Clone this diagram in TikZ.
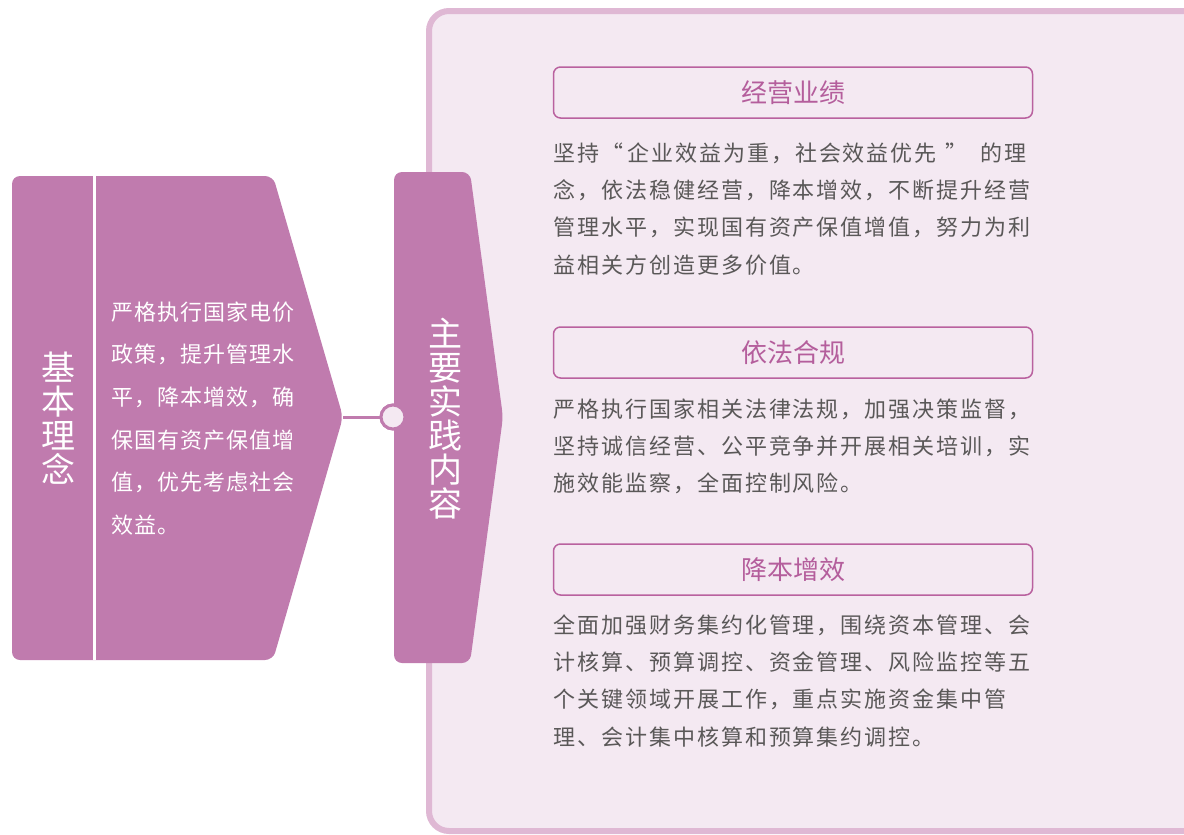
\documentclass[tikz,border=0pt]{standalone}
\usepackage{fontspec}
\newfontfamily\cjk{Noto Sans CJK SC}
\newfontfamily\cjkbody[LetterSpace=9]{Noto Sans CJK SC}
\newfontfamily\cjkleft[LetterSpace=4.5]{Noto Sans CJK SC}
\definecolor{purp}{HTML}{C07BAE}
\definecolor{panelfill}{HTML}{F4E9F2}
\definecolor{panelline}{HTML}{DFB8D4}
\definecolor{titleline}{HTML}{B9619F}
\definecolor{titletext}{HTML}{B45E9C}
\definecolor{bodytext}{HTML}{5A5858}
\newcommand{\oq}{\makebox[28pt][r]{“\hspace{4pt}}}
\newcommand{\cq}{\makebox[44pt][l]{\hspace{9pt}”}}
\tikzset{
  titlebox/.style={draw=titleline, line width=1.5pt, rounded corners=7pt, minimum width=479pt, minimum height=51pt, inner sep=0pt, text=titletext, font=\cjk\fontsize{26}{30}\selectfont},
  bodytxt/.style={anchor=base west, inner sep=0pt, align=left, text=bodytext, font=\cjkbody\fontsize{22}{37.3}\selectfont},
  lefttxt/.style={anchor=base west, inner sep=0pt, align=left, text=white, font=\cjkleft\fontsize{22}{42.7}\selectfont},
  verttxt/.style={inner sep=0pt, align=center, text=white, font=\cjk\fontsize{34}{34}\selectfont},
}
\begin{document}
\begin{tikzpicture}[x=1pt,y=-1pt]
\useasboundingbox (0,0) rectangle (1184,835);
\begin{scope}
\clip (0,0) rectangle (1184,835);
\draw[panelline, line width=6pt, fill=panelfill, rounded corners=20pt] (429,11) rectangle (1260,831);
\end{scope}
% left shape
\fill[purp, rounded corners=8pt] (12,176) -- (273,176) -- (343,417) -- (273,660) -- (12,660) -- cycle;
\draw[white, line width=3pt] (94.5,176) -- (94.5,660);
\coordinate (ltip) at (343,417);
% right shape
\fill[purp, rounded corners=8pt] (394,172) -- (470,172) -- (503,417) -- (470,663) -- (394,663) -- cycle;
% connector
\node[circle, draw=purp, line width=3pt, fill=panelfill, minimum size=24pt, inner sep=0pt] (c) at (393,417) {};
\draw[purp, line width=3pt] (ltip) -- (c.west);
\node[circle, draw=purp, line width=3pt, fill=panelfill, minimum size=24pt, inner sep=0pt] at (393,417) {};
% vertical labels
\node[verttxt] (v1) at (58,418) {基\\本\\理\\念};
\node[verttxt] (v2) at (445,419) {主\\要\\实\\践\\内\\容};
% left text
\node[lefttxt] (lt) at (111,533.5) {严格执行国家电价\\政策，提升管理水\\平，降本增效，确\\保国有资产保值增\\值，优先考虑社会\\效益。};
% titles
\node[titlebox] (t1) at (793,92.5) {经营业绩};
\node[titlebox] (t2) at (793,352.5) {依法合规};
\node[titlebox] (t3) at (793,569.5) {降本增效};
% bodies
\node[bodytxt] (b1) at (553,273) {坚持\oq 企业效益为重，社会效益优先\cq 的理\\念，依法稳健经营，降本增效，不断提升经营\\管理水平，实现国有资产保值增值，努力为利\\益相关方创造更多价值。};
\node[bodytxt] (b2) at (553,491.6) {严格执行国家相关法律法规，加强决策监督，\\坚持诚信经营、公平竞争并开展相关培训，实\\施效能监察，全面控制风险。};
\node[bodytxt] (b3) at (553,745) {全面加强财务集约化管理，围绕资本管理、会\\计核算、预算调控、资金管理、风险监控等五\\个关键领域开展工作，重点实施资金集中管\\理、会计集中核算和预算集约调控。};
\end{tikzpicture}
\end{document}
